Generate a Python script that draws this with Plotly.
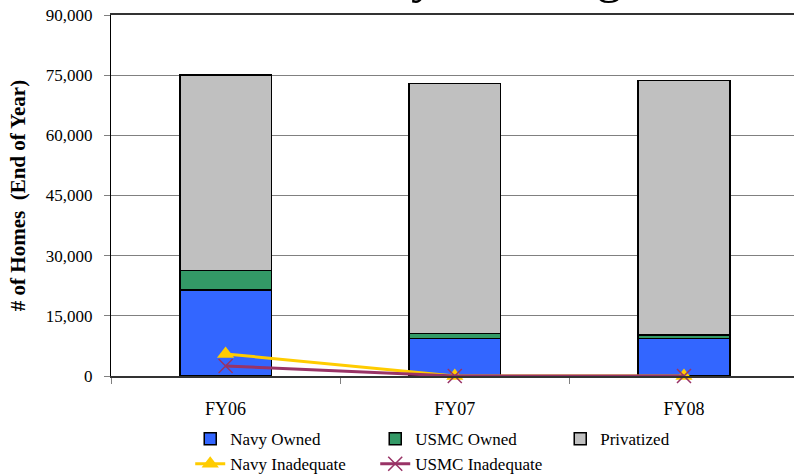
import plotly.graph_objects as go

categories = ["FY06", "FY07", "FY08"]
navy_owned = [21500, 9400, 9400]
usmc_owned = [4750, 1250, 800]
privatized = [48750, 62300, 63500]
navy_inadequate = [5500, 0, 0]
usmc_inadequate = [2500, 0, 0]
y_ticks = [0, 15000, 30000, 45000, 60000, 75000, 90000]

FONT = "Palatino Linotype, Book Antiqua, Liberation Serif, serif"

fig = go.Figure()
fig.add_trace(go.Bar(x=categories, y=navy_owned, name="Navy Owned",
                     marker=dict(color="#3366FF", line=dict(color="black", width=1.5))))
fig.add_trace(go.Bar(x=categories, y=usmc_owned, name="USMC Owned",
                     marker=dict(color="#339966", line=dict(color="black", width=1.5))))
fig.add_trace(go.Bar(x=categories, y=privatized, name="Privatized",
                     marker=dict(color="#C0C0C0", line=dict(color="black", width=1.5))))
fig.add_trace(go.Scatter(x=categories, y=navy_inadequate, name="Navy Inadequate",
                         mode="lines+markers", cliponaxis=False,
                         line=dict(color="#FFCC00", width=3),
                         marker=dict(symbol="triangle-up", size=15, color="#FFCC00")))
fig.add_trace(go.Scatter(x=categories, y=usmc_inadequate, name="USMC Inadequate",
                         mode="lines+markers", cliponaxis=False,
                         line=dict(color="#993366", width=3),
                         marker=dict(symbol="x-thin", size=14,
                                     line=dict(color="#993366", width=1.5))))

fig.add_annotation(text="Family Housing", xref="paper", yref="paper",
                   x=0.507, y=1.027, xanchor="center", yanchor="bottom",
                   showarrow=False, font=dict(family=FONT, size=51, color="black"))

fig.update_layout(
    width=794, height=475,
    margin=dict(l=111, r=0, t=15, b=99, autoexpand=False),
    barmode="stack", bargap=0.6,
    plot_bgcolor="white", paper_bgcolor="white",
    font=dict(family=FONT, size=17, color="black"),
    xaxis=dict(type="category", range=[-0.5, 2.48], tickson="boundaries",
               ticks="outside", ticklen=6, tickcolor="#808080",
               showline=True, linecolor="#333333", linewidth=1.5, mirror=True,
               tickfont=dict(size=18), showgrid=False, automargin=False,
               ticklabelstandoff=16),
    yaxis=dict(range=[0, 90000], tickvals=y_ticks, tickformat=",d",
               ticks="outside", ticklen=6, tickcolor="#808080",
               showgrid=True, gridcolor="#808080", gridwidth=1,
               showline=True, linecolor="black", linewidth=1,
               zeroline=False, tickfont=dict(size=17), automargin=False,
               ticklabelstandoff=8, ticklabeloverflow="allow",
               title=dict(text="<b># of Homes  (End of Year)</b>",
                          font=dict(size=21), standoff=14)),
    legend=dict(orientation="h", x=0.116, xanchor="left", y=-0.125, yanchor="top",
                entrywidth=140, font=dict(size=17), tracegroupgap=0,
                itemwidth=30, traceorder="normal"),
)

fig.write_html("out.html", config={"displayModeBar": False},
               post_script="document.body.style.margin='0';document.body.style.overflow='hidden';")
